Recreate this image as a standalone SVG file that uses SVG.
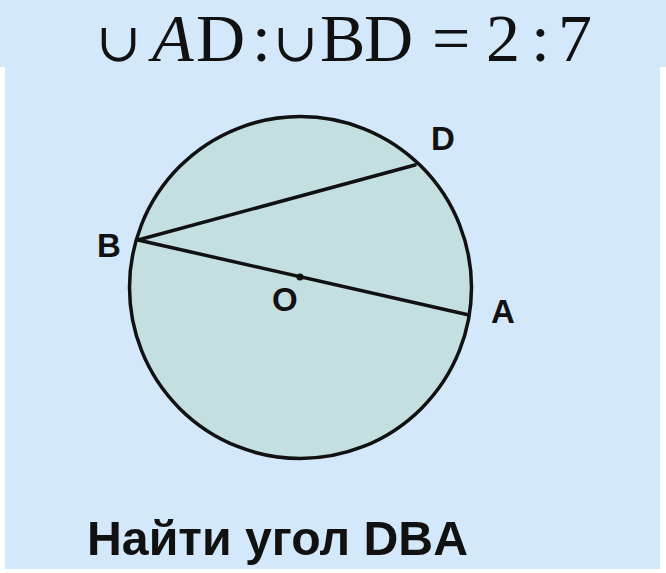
<svg xmlns="http://www.w3.org/2000/svg" width="666" height="573" viewBox="0 0 666 573">
<style>
.bg{fill:#d3e8fb}
.lbl{font-family:"Liberation Sans",Arial,sans-serif;font-weight:bold;font-size:33px;fill:#111}
.f{font-family:"Liberation Serif","DejaVu Serif",serif;font-size:68px;fill:#111}
.cup{font-size:54px}
.ln{stroke:#111;stroke-width:3.5;fill:none;stroke-linecap:round}
</style>
<rect width="666" height="573" fill="#ffffff"/>
<rect class="bg" x="0" y="0" width="666" height="67"/>
<rect class="bg" x="5" y="67" width="655" height="502"/>
<g id="formula">
<text class="f" y="61"><tspan class="cup" x="96">∪</tspan><tspan x="152" font-style="italic">A</tspan><tspan x="196">D</tspan><tspan x="252">:</tspan><tspan class="cup" x="273">∪</tspan><tspan x="320">B</tspan><tspan x="364">D</tspan><tspan x="432">=</tspan><tspan x="486">2</tspan><tspan x="531">:</tspan><tspan x="558">7</tspan></text>
</g>
<g id="circle">
<circle cx="300.5" cy="287.5" r="171" fill="#c3dfe0" stroke="#111" stroke-width="3.5"/>
</g>
<g id="connectors">
<line class="ln" x1="138" y1="240" x2="415" y2="165"/>
<line class="ln" x1="138" y1="240" x2="469" y2="315"/>
</g>
<g id="center">
<circle cx="300" cy="277" r="3.5" fill="#111"/>
</g>
<g id="labels">
<text class="lbl" x="431" y="150">D</text>
<text class="lbl" x="97" y="257">B</text>
<text class="lbl" x="272" y="311">O</text>
<text class="lbl" x="491" y="323">A</text>
</g>
<g id="title">
<text x="87" y="555" font-family="Liberation Sans,Arial,sans-serif" font-weight="bold" font-size="48" fill="#111" textLength="381" lengthAdjust="spacingAndGlyphs">Найти угол DBA</text>
</g>
</svg>
